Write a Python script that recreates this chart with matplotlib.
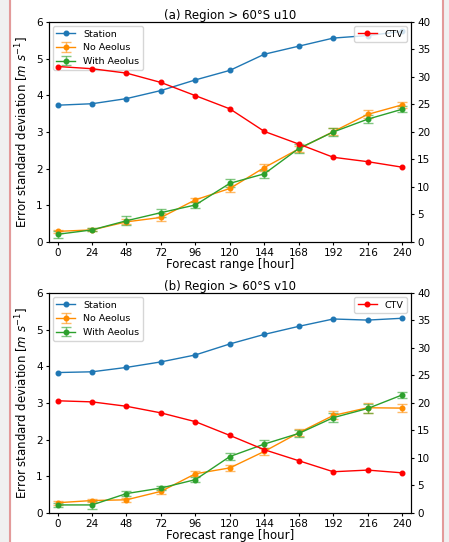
import matplotlib.pyplot as plt
from matplotlib.patches import Rectangle
from matplotlib.lines import Line2D

hours = [0, 24, 48, 72, 96, 120, 144, 168, 192, 216, 240]

# panel (a) u10
station_a = [3.73, 3.77, 3.91, 4.13, 4.42, 4.68, 5.12, 5.34, 5.56, 5.63, 5.74]
ctv_a = [31.9, 31.5, 30.7, 29.0, 26.6, 24.2, 20.1, 17.8, 15.4, 14.6, 13.6]
noaeolus_a = [0.29, 0.33, 0.55, 0.67, 1.15, 1.46, 2.03, 2.54, 3.01, 3.48, 3.74]
noaeolus_err_a = [0.05, 0.04, 0.07, 0.11, 0.06, 0.10, 0.09, 0.08, 0.09, 0.11, 0.09]
withaeolus_a = [0.21, 0.33, 0.58, 0.80, 1.01, 1.60, 1.86, 2.55, 3.00, 3.35, 3.62]
withaeolus_err_a = [0.09, 0.04, 0.12, 0.11, 0.07, 0.11, 0.11, 0.12, 0.11, 0.11, 0.08]

# panel (b) v10
station_b = [3.83, 3.85, 3.97, 4.12, 4.31, 4.61, 4.87, 5.09, 5.29, 5.26, 5.31]
ctv_b = [20.4, 20.2, 19.4, 18.2, 16.6, 14.1, 11.5, 9.5, 7.5, 7.8, 7.3]
noaeolus_b = [0.28, 0.34, 0.36, 0.59, 1.07, 1.23, 1.68, 2.19, 2.66, 2.87, 2.86]
noaeolus_err_b = [0.05, 0.05, 0.05, 0.06, 0.07, 0.09, 0.09, 0.10, 0.11, 0.14, 0.11]
withaeolus_b = [0.22, 0.22, 0.53, 0.68, 0.91, 1.54, 1.88, 2.17, 2.60, 2.85, 3.22]
withaeolus_err_b = [0.06, 0.10, 0.06, 0.06, 0.07, 0.09, 0.10, 0.10, 0.13, 0.11, 0.09]

fig = plt.figure(figsize=(4.49, 5.42), dpi=100)

# page background / frame bits from the paper
fig.add_artist(Rectangle((0, 0), 10 / 449, 1, color='#f0f0f0', transform=fig.transFigure, zorder=0))
fig.add_artist(Line2D([10 / 449, 10 / 449], [0, 1], color='#e39a9a', lw=1.5, transform=fig.transFigure))
fig.add_artist(Line2D([443 / 449, 443 / 449], [0, 1], color='#e39a9a', lw=1.5, transform=fig.transFigure))
fig.add_artist(Rectangle((444 / 449, 0), 5 / 449, 1, color='#f0f0f0', transform=fig.transFigure, zorder=0))

ms = 3.3


def panel(rect, title, station, ctv, noa, noa_err, wa, wa_err):
    ax = fig.add_axes(rect)
    ax.plot(hours, station, '-o', color='tab:blue', ms=ms, lw=1, label='Station')
    ax.errorbar(hours, noa, yerr=noa_err, fmt='-o', color='darkorange', ms=ms, lw=1,
                capsize=3.6, elinewidth=1, ecolor=(1.0, 0.55, 0.0, 0.6), label='No Aeolus')
    ax.errorbar(hours, wa, yerr=wa_err, fmt='-o', color='tab:green', ms=ms, lw=1,
                capsize=3.6, elinewidth=1, ecolor=(0.17, 0.63, 0.17, 0.6), label='With Aeolus')
    ax.set_ylim(0, 6)
    ax.set_xlim(-6, 246)
    ax.set_xticks(hours)
    ax.set_ylabel('Error standard deviation [$m\\ s^{-1}$]', fontsize=8.5, labelpad=4)
    ax.set_xlabel('Forecast range [hour]', fontsize=8.5, labelpad=0)
    ax.set_title(title, fontsize=8.5, pad=2)
    ax.tick_params(labelsize=7.5, pad=2, length=2.5)
    ax.legend(loc='upper left', fontsize=6.8, borderaxespad=0.4)
    ax2 = ax.twinx()
    ax2.plot(hours, ctv, '-o', color='red', ms=ms, lw=1, label='CTV')
    ax2.set_ylim(0, 40)
    ax2.tick_params(labelsize=7.5, pad=2, length=2.5)
    ax2.legend(loc='upper right', fontsize=6.8, borderaxespad=0.4)
    return ax


panel([0.109, 0.5535, 0.806, 0.406], '(a) Region > 60°S u10',
      station_a, ctv_a, noaeolus_a, noaeolus_err_a, withaeolus_a, withaeolus_err_a)
panel([0.109, 0.0535, 0.806, 0.406], '(b) Region > 60°S v10',
      station_b, ctv_b, noaeolus_b, noaeolus_err_b, withaeolus_b, withaeolus_err_b)

fig.savefig('out.png', dpi=100)
